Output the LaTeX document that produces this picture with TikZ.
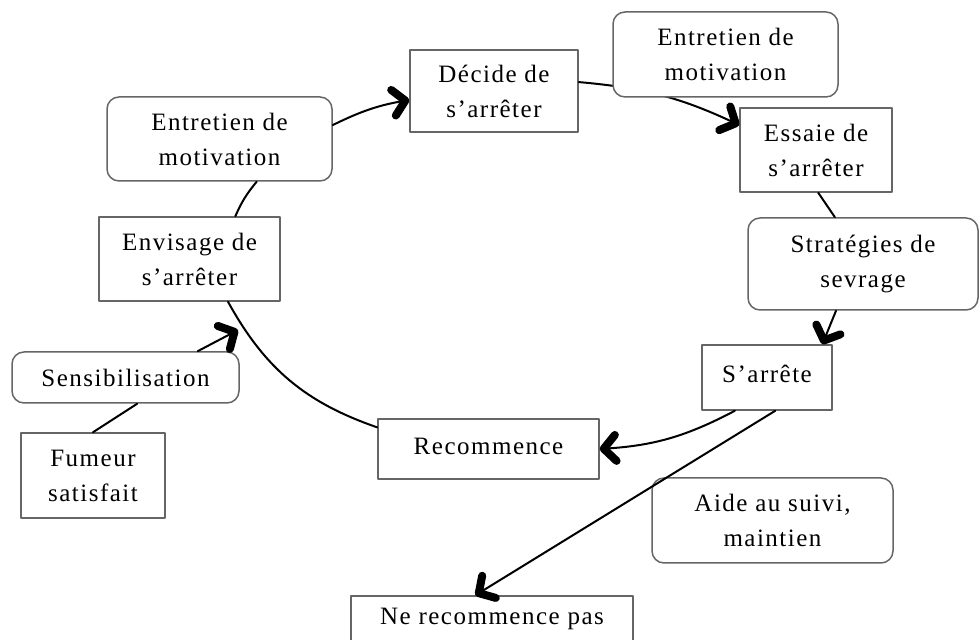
\documentclass[tikz,border=0pt]{standalone}
\usepackage{fontspec}
\setmainfont{Liberation Serif}[LetterSpace=6]
\usetikzlibrary{arrows.meta}
\tikzset{
	stade/.style={draw=black!60, line width=0.75pt, fill=white, inner sep=0pt, align=center, font=\fontsize{12.5}{17.5}\selectfont},
	interv/.style={stade, rounded corners=6pt},
	fleche/.style={line width=1pt, -{Straight Barb[length=6pt,width=13pt,line width=4pt,round]}}
}
\begin{document}
\begin{tikzpicture}[x=0.5pt, y=0.5pt, line join=round, line cap=round]
			\useasboundingbox (0,0) rectangle (979,640);
			\clip (0,0) rectangle (979,640);
			% le cycle
			\node[stade, minimum width=84pt, minimum height=41pt] (dec) at (494,549) {Décide de\\s’arrêter};
			\node[stade, minimum width=76pt, minimum height=42pt] (ess) at (816,490) {Essaie de\\s’arrêter};
			\node[interv, minimum width=115pt, minimum height=46pt] (strat) at (863,376) {Stratégies de\\sevrage};
			\node[stade, minimum width=65pt, minimum height=32.5pt] (sarr) at (767,262.5) {\raisebox{4pt}{S’arrête}};
			\node[stade, minimum width=110.5pt, minimum height=30pt] (rec) at (488.5,191) {\raisebox{2.5pt}{Recommence}};
			\node[interv, minimum width=120.5pt, minimum height=42.5pt] (aide) at (772.5,119.5) {Aide au suivi,\\maintien};
			\node[stade, minimum width=141pt, minimum height=23pt] (nerec) at (492,21) {Ne recommence pas};
			\node[interv, minimum width=112.5pt, minimum height=42pt] (entL) at (219.5,501) {Entretien de\\motivation};
			\node[stade, minimum width=90.5pt, minimum height=42pt] (env) at (189.5,381) {Envisage de\\s’arrêter};
			\node[interv, minimum width=113.5pt, minimum height=25.5pt] (sens) at (125.5,262.5) {Sensibilisation};
			\node[stade, minimum width=72pt, minimum height=42.5pt] (fum) at (93,164.5) {Fumeur\\satisfait};
			% les liens
			\draw[fleche] (entL.7) to[bend left=8] (dec.186);
			\draw[fleche] (dec.6) to[bend left=10] (ess.162);
			\draw[line width=1pt] (ess.-87) -- (strat.121);
			\draw[fleche] (strat.240) -- (sarr.31);
			\draw[fleche] (sarr.226) to[bend left=12] (rec.east);
			\draw[fleche] (sarr.-76) -- (nerec.125);
			\draw[line width=1pt] (rec.169) to[bend left=21] (env.-48);
			\draw[line width=1pt] (env.43) to[bend left=8] (entL.-49);
			\coordinate (retour) at (238,310);
			\draw[fleche] (sens.20) -- (retour);
			\draw[line width=1pt] (fum.north) -- (sens.-66);
			% par-dessus l'arc
			\node[interv, minimum width=112.5pt, minimum height=42.5pt] (entR) at (725.5,585.5) {Entretien de\\motivation};
		\end{tikzpicture}
\end{document}
